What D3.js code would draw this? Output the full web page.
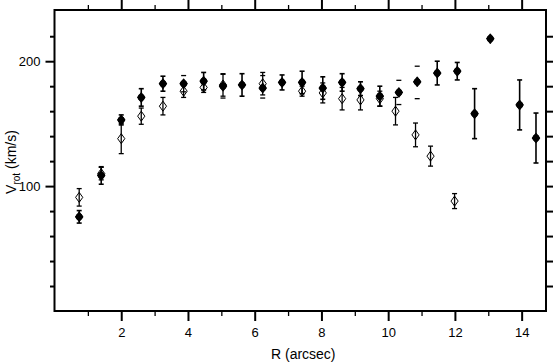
<!DOCTYPE html>
<html>
<head>
<meta charset="utf-8">
<script src="https://cdn.jsdelivr.net/npm/d3@7"></script>
<style>
  html, body { margin: 0; padding: 0; background: #fff; }
  svg { display: block; }
</style>
</head>
<body>
<svg id="chart" width="554" height="363"></svg>
<script>
'use strict';

/* ── data (R in arcsec, Vrot in km/s) ───────── */
// filled symbols, solid error bars
const filledR = [0.74, 1.40, 2.00, 2.60, 3.25, 3.87, 4.47, 5.05, 5.62, 6.24, 6.82, 7.42, 8.04, 8.62, 9.17, 9.75, 10.32, 10.87, 11.47, 12.07, 12.59, 13.06, 13.94, 14.43];
const filledV = [75.4, 108.5, 153, 171, 182, 182, 184, 180, 181, 178.5, 183, 183, 178.5, 183, 178, 172, 175, 183.5, 190.5, 192, 158, 218, 165, 138.5];
const filledE = [5, 7, 4, 7, 6, 0, 7, 0, 9, 0, 6, 9, 9, 7, 5.5, 8, 0, 0, 9.5, 7, 20, 0, 20, 20];

// cap-only error bars around some filled points
const capR = [3.87, 5.05, 6.24, 10.32, 10.87];
const capV = [182, 180, 179.5, 175, 183];
const capE = [6.5, 9.5, 9, 9.7, 13];

// open symbols
const openR = [0.74, 1.40, 2.00, 2.60, 3.25, 3.87, 4.47, 5.05, 6.24, 7.42, 8.04, 8.62, 9.17, 9.75, 10.22, 10.82, 11.27, 11.99];
const openV = [91, 110, 138, 156, 164, 176, 179, 181, 182, 176, 174.6, 170, 169, 170, 160, 141, 124, 88];
const openE = [7, 5, 12, 6.5, 7, 5, 4, 9, 9, 4, 8, 9, 8, 6, 11, 9.5, 8, 6];

const xMajor = [2, 4, 6, 8, 10, 12, 14];
const xMinor = [1, 3, 5, 7, 9, 11, 13];
const yMajor = [100, 200];
const yMinor = [20, 40, 60, 80, 120, 140, 160, 180, 220];
const yRight = [20, 40, 60, 80, 100, 120, 140, 160, 180, 200, 220];

/* ── layout ─────────────────────────────────── */
const L = 54.5, R = 546, T = 10, B = 311;
const svg = d3.select('#chart');

const x = d3.scaleLinear().domain([0, 14.73]).range([L, R]);
const y = d3.scaleLinear().domain([0, 241]).range([B, T]);

const tickFont = "'Liberation Sans Narrow', 'Arial Narrow', 'Liberation Sans', Arial, sans-serif";

function styleAxis(g, w) {
  g.select('.domain').remove();
  g.selectAll('.tick line').attr('stroke', '#000').attr('stroke-width', w);
  g.selectAll('.tick text')
    .attr('font-family', tickFont)
    .attr('font-size', '13px')
    .attr('fill', '#000');
}

// bottom
svg.append('g').attr('transform', `translate(0,${B})`)
  .call(d3.axisBottom(x).tickValues(xMajor).tickSize(10).tickPadding(7).tickFormat(d3.format('d')))
  .call(g => styleAxis(g, 2));
svg.append('g').attr('transform', `translate(0,${B})`)
  .call(d3.axisBottom(x).tickValues(xMinor).tickSize(5).tickFormat(''))
  .call(g => styleAxis(g, 1.3));
// top
svg.append('g').attr('transform', `translate(0,${T})`)
  .call(d3.axisTop(x).tickValues(xMajor).tickSize(10).tickFormat(''))
  .call(g => styleAxis(g, 2));
svg.append('g').attr('transform', `translate(0,${T})`)
  .call(d3.axisTop(x).tickValues(xMinor).tickSize(5).tickFormat(''))
  .call(g => styleAxis(g, 1.3));
// left
svg.append('g').attr('transform', `translate(${L},0)`)
  .call(d3.axisLeft(y).tickValues(yMajor).tickSize(9).tickPadding(5).tickFormat(d3.format('d')))
  .call(g => styleAxis(g, 2));
svg.append('g').attr('transform', `translate(${L},0)`)
  .call(d3.axisLeft(y).tickValues(yMinor).tickSize(4.5).tickFormat(''))
  .call(g => styleAxis(g, 2));
// right
svg.append('g').attr('transform', `translate(${R},0)`)
  .call(d3.axisRight(y).tickValues(yRight).tickSize(7).tickFormat(''))
  .call(g => styleAxis(g, 2));

// frame
svg.append('rect')
  .attr('x', L).attr('y', T).attr('width', R - L).attr('height', B - T)
  .attr('fill', 'none').attr('stroke', '#000').attr('stroke-width', 2);

/* ── axis titles ───────────────────────────── */
svg.append('text')
  .attr('x', (L + R) / 2 + 3).attr('y', 359)
  .attr('text-anchor', 'middle')
  .attr('font-family', "'Liberation Sans', Arial, sans-serif")
  .attr('font-size', '14px')
  .text('R (arcsec)');

const yt = svg.append('text')
  .attr('transform', 'translate(16,162) rotate(-90)')
  .attr('text-anchor', 'middle')
  .attr('font-family', "'Liberation Sans', Arial, sans-serif")
  .attr('font-size', '14px');
yt.append('tspan').text('V');
yt.append('tspan').attr('font-size', '10px').attr('dy', 4).text('rot');
yt.append('tspan').attr('dy', -4).text(' (km/s)');

/* ── error bars ────────────────────────────── */
const filled = filledR.map((r, i) => ({ r, v: filledV[i], e: filledE[i] }));
const open   = openR.map((r, i) => ({ r, v: openV[i], e: openE[i] }));
const caps   = capR.map((r, i) => ({ r, v: capV[i], e: capE[i] }));

function errorBars(data, stem, w, cw) {
  const g = svg.append('g').attr('stroke', '#000').attr('stroke-width', w);
  const d = data.filter(p => p.e > 0);
  if (stem) {
    g.selectAll('line.stem').data(d).join('line').attr('class', 'stem')
      .attr('x1', p => x(p.r)).attr('x2', p => x(p.r))
      .attr('y1', p => y(p.v + p.e)).attr('y2', p => y(p.v - p.e));
  }
  [1, -1].forEach(s => {
    g.selectAll('line.cap' + (s > 0 ? 'a' : 'b')).data(d).join('line')
      .attr('class', 'cap' + (s > 0 ? 'a' : 'b'))
      .attr('x1', p => x(p.r) - cw).attr('x2', p => x(p.r) + cw)
      .attr('y1', p => y(p.v + s * p.e)).attr('y2', p => y(p.v + s * p.e));
  });
}

errorBars(open, true, 1.3, 2.5);
errorBars(caps, false, 1.3, 2.5);

/* ── open symbols ──────────────────────────── */
const diamond = (hw, hh) => `M0,${-hh}L${hw},0L0,${hh}L${-hw},0Z`;

svg.append('g').selectAll('path').data(open).join('path')
  .attr('d', diamond(3.6, 5))
  .attr('transform', p => `translate(${x(p.r)},${y(p.v)})`)
  .attr('fill', 'none')
  .attr('stroke', '#000')
  .attr('stroke-width', 1);

/* ── filled symbols ────────────────────────── */
errorBars(filled, true, 1.6, 2.5);

const fg = svg.append('g').selectAll('g').data(filled).join('g')
  .attr('transform', p => `translate(${x(p.r)},${y(p.v)})`);
fg.append('path')
  .attr('d', diamond(3.6, 4.6))
  .attr('fill', '#000')
  .attr('stroke', '#000')
  .attr('stroke-width', 1.2)
  .attr('stroke-linejoin', 'round');
fg.append('circle').attr('r', 3.4).attr('fill', '#000');
</script>
</body>
</html>
